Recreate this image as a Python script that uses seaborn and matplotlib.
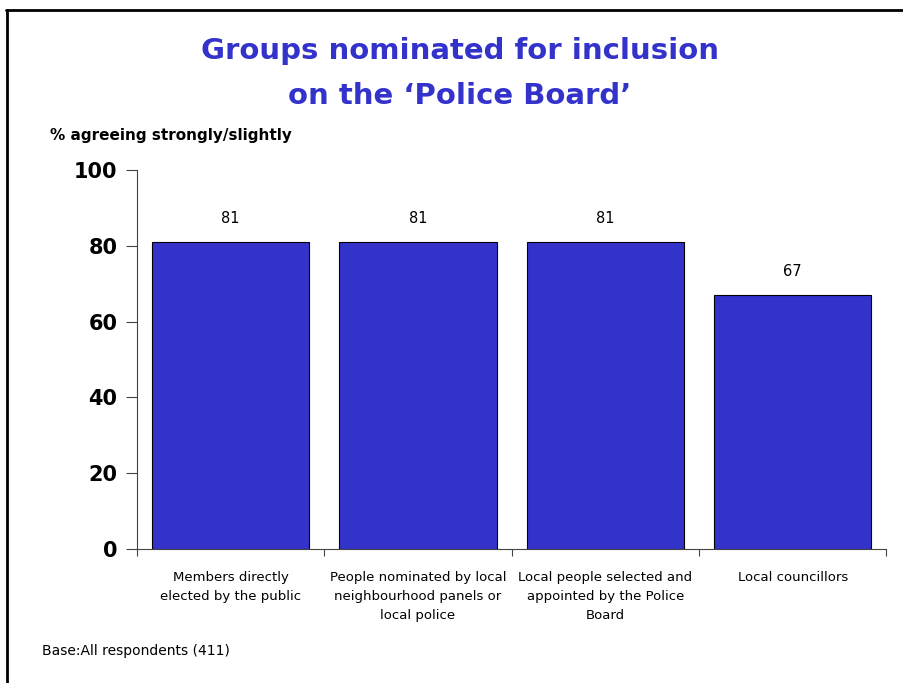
import matplotlib
matplotlib.use("Agg")
import matplotlib.pyplot as plt
import seaborn as sns
import pandas as pd
import numpy as np
from matplotlib.lines import Line2D

categories = [
    "Members directly\nelected by the public",
    "People nominated by local\nneighbourhood panels or\nlocal police",
    "Local people selected and\nappointed by the Police\nBoard",
    "Local councillors",
]
values = [81, 81, 81, 67]
y_ticks = [0, 20, 40, 60, 80, 100]

sns.set_theme(style="white")
plt.rcParams["font.family"] = ["DejaVu Sans"]

df = pd.DataFrame({"group": categories, "pct": values})

fig = plt.figure(figsize=(9.04, 6.83), dpi=100)
ax = fig.add_axes([0.1515, 0.1962, 0.829, 0.5549])

bar_color = "#3333CC"
sns.barplot(data=df, x="group", y="pct", color=bar_color, saturation=1,
            width=0.84, edgecolor="black", linewidth=0.8, ax=ax)

ax.set_xlim(-0.5, len(categories) - 0.5)
ax.set_ylim(0, 100)
ax.set_yticks(y_ticks)
ax.set_yticklabels([str(t) for t in y_ticks], fontsize=15, fontweight="bold", color="black")
ax.set_xticks(range(len(categories)))
ax.set_xticklabels(categories, fontsize=9.5, linespacing=1.6, color="black")
ax.tick_params(axis="x", which="major", bottom=True, length=0, pad=16)
ax.set_xticks(np.arange(-0.5, len(categories)), minor=True)
ax.tick_params(axis="x", which="minor", bottom=True, length=5, direction="out",
               color="#444444", width=0.8)
ax.tick_params(axis="y", left=True, length=8, direction="out", color="#444444",
               width=0.8, pad=6)
ax.set_xlabel("")
ax.set_ylabel("")

for side in ["top", "right"]:
    ax.spines[side].set_visible(False)
for side in ["left", "bottom"]:
    ax.spines[side].set_color("#444444")
    ax.spines[side].set_linewidth(0.8)

for i, v in enumerate(values):
    ax.text(i, v + 4.3, str(v), ha="center", va="bottom", fontsize=10.5, color="black")

fig.text(0.509, 0.925, "Groups nominated for inclusion", ha="center", va="center",
         fontsize=21, fontweight="bold", color=bar_color)
fig.text(0.509, 0.860, "on the \u2018Police Board\u2019", ha="center", va="center",
         fontsize=21, fontweight="bold", color=bar_color)
fig.text(0.055, 0.802, "% agreeing strongly/slightly", ha="left", va="center",
         fontsize=11, fontweight="bold", color="black")
fig.text(0.046, 0.047, "Base:All respondents (411)", ha="left", va="center",
         fontsize=10, color="black")

# slide frame along the top and left edges
fig.add_artist(Line2D([0.007, 1.0], [0.985, 0.985], transform=fig.transFigure,
                      color="black", linewidth=2))
fig.add_artist(Line2D([0.008, 0.008], [0.0, 0.985], transform=fig.transFigure,
                      color="black", linewidth=2))

fig.savefig("out.png", dpi=100)
